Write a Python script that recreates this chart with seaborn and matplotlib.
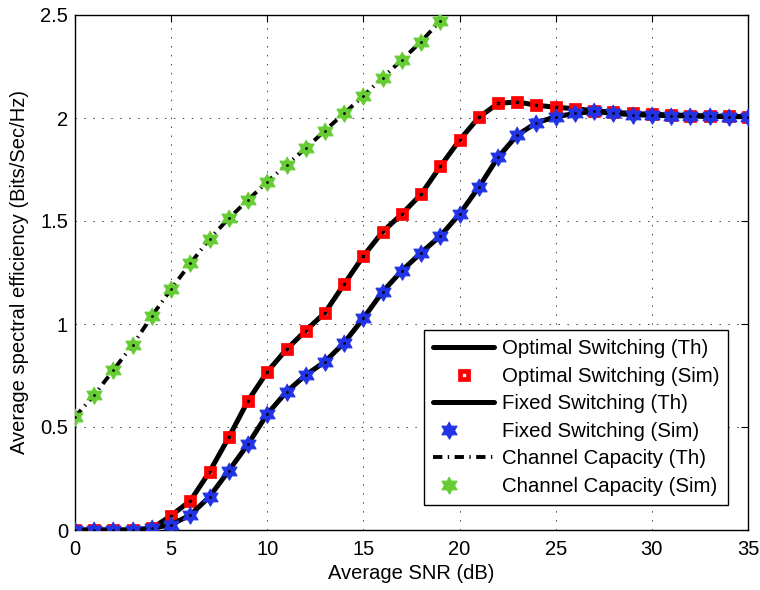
import matplotlib
matplotlib.use("Agg")
import matplotlib.pyplot as plt
import seaborn as sns
import numpy as np
from matplotlib.lines import Line2D
from matplotlib.legend_handler import HandlerTuple

# ---- data ----
snr = list(range(0, 36))
optimal = [0, 0, 0, 0, 0.008, 0.07, 0.142, 0.283, 0.45, 0.628, 0.768, 0.877, 0.968,
           1.055, 1.194, 1.33, 1.448, 1.534, 1.63, 1.765, 1.893, 2.003, 2.071, 2.078,
           2.062, 2.052, 2.045, 2.035, 2.028, 2.022, 2.018, 2.015, 2.012, 2.01, 2.008, 2.007]
fixed = [0, 0, 0, 0, 0.008, 0.026, 0.073, 0.162, 0.288, 0.417, 0.563, 0.671, 0.752,
         0.817, 0.909, 1.028, 1.157, 1.259, 1.346, 1.427, 1.534, 1.664, 1.809, 1.917,
         1.977, 2.006, 2.022, 2.032, 2.022, 2.016, 2.013, 2.011, 2.01, 2.008, 2.007, 2.006]
cap_snr = list(range(0, 20))
capacity = [0.549, 0.655, 0.777, 0.898, 1.039, 1.17, 1.294, 1.413, 1.513, 1.602,
            1.691, 1.772, 1.853, 1.939, 2.023, 2.107, 2.196, 2.282, 2.371, 2.472]

labels = ["Optimal Switching (Th)", "Optimal Switching (Sim)",
          "Fixed Switching (Th)", "Fixed Switching (Sim)",
          "Channel Capacity (Th)", "Channel Capacity (Sim)"]
xticks = [0, 5, 10, 15, 20, 25, 30, 35]
yticks = [0, 0.5, 1, 1.5, 2, 2.5]
yticklabels = ["0", "0.5", "1", "1.5", "2", "2.5"]

# ---- style ----
sns.set_theme(style="white")
plt.rcParams["font.family"] = ["Liberation Sans", "DejaVu Sans"]
plt.rcParams["axes.edgecolor"] = "black"
plt.rcParams["xtick.color"] = "black"
plt.rcParams["ytick.color"] = "black"
plt.rcParams["text.color"] = "black"
plt.rcParams["axes.labelcolor"] = "black"

FS = 14.5
LFS = 14.7
RED = "#ff0000"
BLUE = "#2233e6"
GREEN = "#66cc33"

# hexagram marker
ang = np.deg2rad(90 + 30 * np.arange(12))
rad = np.where(np.arange(12) % 2 == 0, 1.0, 0.577)
hexagram = list(zip(rad * np.cos(ang), rad * np.sin(ang)))

fig = plt.figure(figsize=(7.6, 5.9), dpi=100)
ax = fig.add_axes([75 / 760, 1 - 530 / 590, 673 / 760, 515 / 590])

LW = 3.6
cap_ls = (0, (2.4, 1.4, 0.35, 1.4))
sq_kw = dict(marker="s", markersize=6.0, markerfacecolor="none",
             markeredgecolor=RED, markeredgewidth=3.4, linestyle="none")


def hex_kw(c):
    return dict(marker=hexagram, markersize=12.5, markerfacecolor=c,
                markeredgecolor=c, markeredgewidth=0.8, linestyle="none")


dot_kw = dict(marker="o", markersize=2.0, markeredgewidth=0, linestyle="none")

sns.lineplot(x=snr, y=optimal, ax=ax, color="black", lw=LW, zorder=3)
ax.plot(snr, optimal, zorder=4, **sq_kw)
sns.lineplot(x=snr, y=fixed, ax=ax, color="black", lw=LW, zorder=5)
ax.plot(snr, fixed, zorder=6, **hex_kw(BLUE))
ax.plot(snr, fixed, zorder=6.5, markerfacecolor="black", **dot_kw)
sns.lineplot(x=cap_snr, y=capacity, ax=ax, color="black", lw=2.8, linestyle=cap_ls, zorder=7)
ax.plot(cap_snr, capacity, zorder=8, **hex_kw(GREEN))
ax.plot(cap_snr, capacity, zorder=9, markerfacecolor="black", **dot_kw)

ax.set_xlim(0, 35)
ax.set_ylim(0, 2.5)
ax.set_xticks(xticks)
ax.set_xticklabels([str(t) for t in xticks])
ax.set_yticks(yticks)
ax.set_yticklabels(yticklabels)
ax.tick_params(direction="in", length=5, width=0.8, top=True, right=True,
               labelsize=FS)
ax.tick_params(axis="x", pad=7)
ax.tick_params(axis="y", pad=5)
for s in ax.spines.values():
    s.set_visible(True)
    s.set_linewidth(1.0)
    s.set_color("black")
ax.grid(True, color="0.25", lw=0.7, linestyle=(0, (1.5, 7.7)))
ax.set_axisbelow(True)

ax.set_xlabel("Average SNR (dB)", fontsize=FS, labelpad=4)
ax.set_ylabel("Average spectral efficiency (Bits/Sec/Hz)", fontsize=FS, labelpad=8)

handles = [
    Line2D([], [], color="black", lw=LW),
    Line2D([], [], **sq_kw),
    Line2D([], [], color="black", lw=LW),
    (Line2D([], [], **hex_kw(BLUE)), Line2D([], [], markerfacecolor="white", **dot_kw)),
    Line2D([], [], color="black", lw=2.8, linestyle=cap_ls),
    (Line2D([], [], **hex_kw(GREEN)), Line2D([], [], markerfacecolor="white", **dot_kw)),
]
leg = ax.legend(handles, labels, loc="upper left",
                bbox_to_anchor=((424 - 75) / 673, (530 - 330) / 515),
                borderaxespad=0, fontsize=LFS, handlelength=3.0, handletextpad=0.35,
                labelspacing=0.42, borderpad=0.45, fancybox=False, framealpha=1,
                edgecolor="black", handler_map={tuple: HandlerTuple(ndivide=None, pad=0)})
leg.get_frame().set_linewidth(1.0)
leg.set_zorder(20)

fig.savefig("out.png", dpi=100)
